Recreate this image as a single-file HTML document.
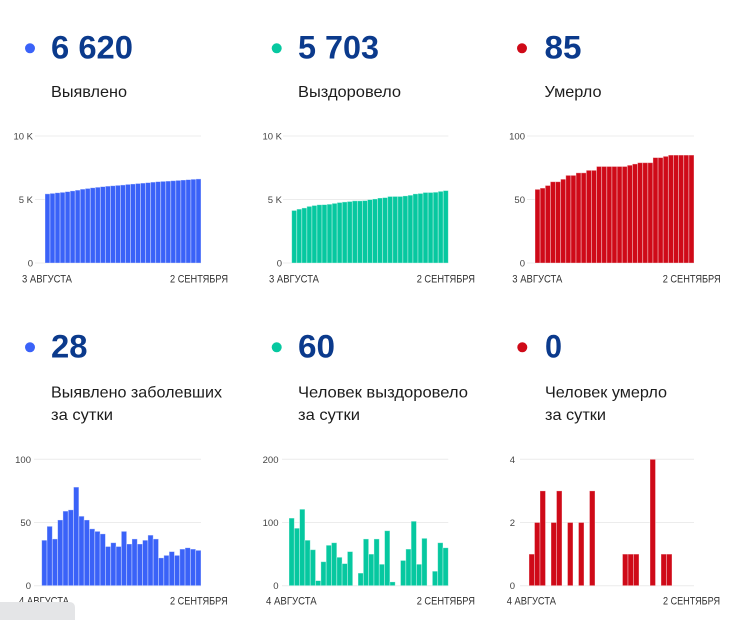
<!DOCTYPE html>
<html><head><meta charset="utf-8"><style>
html,body{margin:0;padding:0;background:#fff;}
svg{display:block;}
.num{font-family:"Liberation Sans",sans-serif;font-weight:bold;font-size:32px;fill:#0b3a8c;}
.lbl{font-family:"Liberation Sans","Noto Sans CJK SC",sans-serif;font-size:16px;fill:#1c1c1c;}
.yt{font-family:"Liberation Sans",sans-serif;font-size:9.5px;fill:#444;text-anchor:end;}
.xt{font-family:"Liberation Sans","Noto Sans CJK SC",sans-serif;font-size:11px;fill:#333;}
.g{stroke:#ececec;stroke-width:1;}
.bars rect{stroke:#fff;stroke-opacity:0.45;stroke-width:0.8;vector-effect:non-scaling-stroke;}
</style></head><body>
<svg width="740" height="620" viewBox="0 0 740 620" xmlns="http://www.w3.org/2000/svg">
<!-- headers top -->
<circle cx="30" cy="48.3" r="5" fill="#3a62f8"/>
<text class="num" x="51" y="58.3" textLength="82" lengthAdjust="spacingAndGlyphs">6 620</text>
<text class="lbl" x="51" y="97" textLength="76" lengthAdjust="spacingAndGlyphs">Выявлено</text>

<circle cx="276.7" cy="48.3" r="5" fill="#06c8a0"/>
<text class="num" x="298" y="58.3" textLength="81" lengthAdjust="spacingAndGlyphs">5 703</text>
<text class="lbl" x="298" y="97" textLength="103" lengthAdjust="spacingAndGlyphs">Выздоровело</text>

<circle cx="522" cy="48.3" r="5" fill="#cf0a18"/>
<text class="num" x="544.5" y="58.3" textLength="37" lengthAdjust="spacingAndGlyphs">85</text>
<text class="lbl" x="544.5" y="97" textLength="57" lengthAdjust="spacingAndGlyphs">Умерло</text>

<!-- headers bottom -->
<circle cx="30" cy="347.3" r="5" fill="#3a62f8"/>
<text class="num" x="51" y="357.7" textLength="36.5" lengthAdjust="spacingAndGlyphs">28</text>
<text class="lbl" x="51" y="397.3" textLength="171" lengthAdjust="spacingAndGlyphs">Выявлено заболевших</text>
<text class="lbl" x="51" y="420" textLength="62" lengthAdjust="spacingAndGlyphs">за сутки</text>

<circle cx="276.7" cy="347.3" r="5" fill="#06c8a0"/>
<text class="num" x="298" y="357.7" textLength="37" lengthAdjust="spacingAndGlyphs">60</text>
<text class="lbl" x="298" y="397.3" textLength="170" lengthAdjust="spacingAndGlyphs">Человек выздоровело</text>
<text class="lbl" x="298" y="420" textLength="62" lengthAdjust="spacingAndGlyphs">за сутки</text>

<circle cx="522.3" cy="347.3" r="5" fill="#cf0a18"/>
<text class="num" x="545" y="357.7" textLength="17" lengthAdjust="spacingAndGlyphs">0</text>
<text class="lbl" x="545" y="397.3" textLength="122" lengthAdjust="spacingAndGlyphs">Человек умерло</text>
<text class="lbl" x="545" y="420" textLength="61" lengthAdjust="spacingAndGlyphs">за сутки</text>

<!-- gridlines -->
<line class="g" x1="35" x2="201" y1="136" y2="136"/><line class="g" x1="35" x2="201" y1="199.5" y2="199.5"/><line class="g" x1="35" x2="201" y1="263" y2="263"/>
<line class="g" x1="283" x2="448.3" y1="136" y2="136"/><line class="g" x1="283" x2="448.3" y1="199.5" y2="199.5"/><line class="g" x1="283" x2="448.3" y1="263" y2="263"/>
<line class="g" x1="527" x2="694" y1="136" y2="136"/><line class="g" x1="527" x2="694" y1="199.5" y2="199.5"/><line class="g" x1="527" x2="694" y1="263" y2="263"/>
<line class="g" x1="34" x2="201" y1="459.3" y2="459.3"/><line class="g" x1="34" x2="201" y1="522.5" y2="522.5"/><line class="g" x1="34" x2="201" y1="585.7" y2="585.7"/>
<line class="g" x1="282" x2="448.3" y1="459.3" y2="459.3"/><line class="g" x1="282" x2="448.3" y1="522.5" y2="522.5"/><line class="g" x1="282" x2="448.3" y1="585.7" y2="585.7"/>
<line class="g" x1="520" x2="694" y1="459.3" y2="459.3"/><line class="g" x1="520" x2="694" y1="522.5" y2="522.5"/><line class="g" x1="520" x2="694" y1="585.7" y2="585.7"/>

<!-- y tick labels -->
<text class="yt" x="33" y="139.5">10 K</text><text class="yt" x="33" y="203">5 K</text><text class="yt" x="33" y="266.5">0</text>
<text class="yt" x="282" y="139.5">10 K</text><text class="yt" x="282" y="203">5 K</text><text class="yt" x="282" y="266.5">0</text>
<text class="yt" x="525" y="139.5">100</text><text class="yt" x="525" y="203">50</text><text class="yt" x="525" y="266.5">0</text>
<text class="yt" x="31" y="462.8">100</text><text class="yt" x="31" y="526">50</text><text class="yt" x="31" y="589.2">0</text>
<text class="yt" x="278.5" y="462.8">200</text><text class="yt" x="278.5" y="526">100</text><text class="yt" x="278.5" y="589.2">0</text>
<text class="yt" x="515" y="462.8">4</text><text class="yt" x="515" y="526">2</text><text class="yt" x="515" y="589.2">0</text>

<!-- x labels -->
<text class="xt" x="22" y="282.3" textLength="50" lengthAdjust="spacingAndGlyphs">3 АВГУСТА</text>
<text class="xt" x="170" y="282.3" textLength="58" lengthAdjust="spacingAndGlyphs">2 СЕНТЯБРЯ</text>
<text class="xt" x="269" y="282.3" textLength="50" lengthAdjust="spacingAndGlyphs">3 АВГУСТА</text>
<text class="xt" x="416.7" y="282.3" textLength="58.3" lengthAdjust="spacingAndGlyphs">2 СЕНТЯБРЯ</text>
<text class="xt" x="512.3" y="282.3" textLength="50" lengthAdjust="spacingAndGlyphs">3 АВГУСТА</text>
<text class="xt" x="662.7" y="282.3" textLength="58" lengthAdjust="spacingAndGlyphs">2 СЕНТЯБРЯ</text>
<text class="xt" x="19" y="604.5" textLength="50" lengthAdjust="spacingAndGlyphs">4 АВГУСТА</text>
<text class="xt" x="170" y="604.5" textLength="57.7" lengthAdjust="spacingAndGlyphs">2 СЕНТЯБРЯ</text>
<text class="xt" x="266" y="604.5" textLength="50.7" lengthAdjust="spacingAndGlyphs">4 АВГУСТА</text>
<text class="xt" x="416.7" y="604.5" textLength="58.3" lengthAdjust="spacingAndGlyphs">2 СЕНТЯБРЯ</text>
<text class="xt" x="506.7" y="604.5" textLength="49.3" lengthAdjust="spacingAndGlyphs">4 АВГУСТА</text>
<text class="xt" x="663" y="604.5" textLength="57" lengthAdjust="spacingAndGlyphs">2 СЕНТЯБРЯ</text>

<!-- top-left bars -->
<g class="bars" fill="#3a62f8" transform="translate(45,263) scale(5.032,-0.0127)">
<rect x="0" y="0" width="1" height="5447"/><rect x="1" y="0" width="1" height="5483"/><rect x="2" y="0" width="1" height="5530"/><rect x="3" y="0" width="1" height="5567"/><rect x="4" y="0" width="1" height="5619"/><rect x="5" y="0" width="1" height="5678"/><rect x="6" y="0" width="1" height="5738"/><rect x="7" y="0" width="1" height="5816"/><rect x="8" y="0" width="1" height="5871"/><rect x="9" y="0" width="1" height="5923"/><rect x="10" y="0" width="1" height="5968"/><rect x="11" y="0" width="1" height="6011"/><rect x="12" y="0" width="1" height="6052"/><rect x="13" y="0" width="1" height="6083"/><rect x="14" y="0" width="1" height="6117"/><rect x="15" y="0" width="1" height="6148"/><rect x="16" y="0" width="1" height="6191"/><rect x="17" y="0" width="1" height="6224"/><rect x="18" y="0" width="1" height="6261"/><rect x="19" y="0" width="1" height="6294"/><rect x="20" y="0" width="1" height="6330"/><rect x="21" y="0" width="1" height="6370"/><rect x="22" y="0" width="1" height="6407"/><rect x="23" y="0" width="1" height="6429"/><rect x="24" y="0" width="1" height="6453"/><rect x="25" y="0" width="1" height="6480"/><rect x="26" y="0" width="1" height="6504"/><rect x="27" y="0" width="1" height="6533"/><rect x="28" y="0" width="1" height="6563"/><rect x="29" y="0" width="1" height="6592"/><rect x="30" y="0" width="1" height="6620"/>
</g>
<!-- top-mid bars -->
<g class="bars" fill="#06c8a0" transform="translate(291.7,263) scale(5.052,-0.0127)">
<rect x="0" y="0" width="1" height="4138"/><rect x="1" y="0" width="1" height="4245"/><rect x="2" y="0" width="1" height="4336"/><rect x="3" y="0" width="1" height="4457"/><rect x="4" y="0" width="1" height="4529"/><rect x="5" y="0" width="1" height="4586"/><rect x="6" y="0" width="1" height="4594"/><rect x="7" y="0" width="1" height="4632"/><rect x="8" y="0" width="1" height="4696"/><rect x="9" y="0" width="1" height="4764"/><rect x="10" y="0" width="1" height="4809"/><rect x="11" y="0" width="1" height="4844"/><rect x="12" y="0" width="1" height="4898"/><rect x="13" y="0" width="1" height="4898"/><rect x="14" y="0" width="1" height="4918"/><rect x="15" y="0" width="1" height="4992"/><rect x="16" y="0" width="1" height="5042"/><rect x="17" y="0" width="1" height="5116"/><rect x="18" y="0" width="1" height="5150"/><rect x="19" y="0" width="1" height="5237"/><rect x="20" y="0" width="1" height="5243"/><rect x="21" y="0" width="1" height="5243"/><rect x="22" y="0" width="1" height="5283"/><rect x="23" y="0" width="1" height="5341"/><rect x="24" y="0" width="1" height="5443"/><rect x="25" y="0" width="1" height="5477"/><rect x="26" y="0" width="1" height="5552"/><rect x="27" y="0" width="1" height="5552"/><rect x="28" y="0" width="1" height="5575"/><rect x="29" y="0" width="1" height="5643"/><rect x="30" y="0" width="1" height="5703"/>
</g>
<!-- top-right bars -->
<g class="bars" fill="#cf0a18" transform="translate(535,263) scale(5.129,-1.27)">
<rect x="0" y="0" width="1" height="58"/><rect x="1" y="0" width="1" height="59"/><rect x="2" y="0" width="1" height="61"/><rect x="3" y="0" width="1" height="64"/><rect x="4" y="0" width="1" height="64"/><rect x="5" y="0" width="1" height="66"/><rect x="6" y="0" width="1" height="69"/><rect x="7" y="0" width="1" height="69"/><rect x="8" y="0" width="1" height="71"/><rect x="9" y="0" width="1" height="71"/><rect x="10" y="0" width="1" height="73"/><rect x="11" y="0" width="1" height="73"/><rect x="12" y="0" width="1" height="76"/><rect x="13" y="0" width="1" height="76"/><rect x="14" y="0" width="1" height="76"/><rect x="15" y="0" width="1" height="76"/><rect x="16" y="0" width="1" height="76"/><rect x="17" y="0" width="1" height="76"/><rect x="18" y="0" width="1" height="77"/><rect x="19" y="0" width="1" height="78"/><rect x="20" y="0" width="1" height="79"/><rect x="21" y="0" width="1" height="79"/><rect x="22" y="0" width="1" height="79"/><rect x="23" y="0" width="1" height="83"/><rect x="24" y="0" width="1" height="83"/><rect x="25" y="0" width="1" height="84"/><rect x="26" y="0" width="1" height="85"/><rect x="27" y="0" width="1" height="85"/><rect x="28" y="0" width="1" height="85"/><rect x="29" y="0" width="1" height="85"/><rect x="30" y="0" width="1" height="85"/>
</g>
<!-- bottom-left bars -->
<g class="bars" fill="#3a62f8" transform="translate(41.7,585.7) scale(5.31,-1.264)">
<rect x="0" y="0" width="1" height="36"/><rect x="1" y="0" width="1" height="47"/><rect x="2" y="0" width="1" height="37"/><rect x="3" y="0" width="1" height="52"/><rect x="4" y="0" width="1" height="59"/><rect x="5" y="0" width="1" height="60"/><rect x="6" y="0" width="1" height="78"/><rect x="7" y="0" width="1" height="55"/><rect x="8" y="0" width="1" height="52"/><rect x="9" y="0" width="1" height="45"/><rect x="10" y="0" width="1" height="43"/><rect x="11" y="0" width="1" height="41"/><rect x="12" y="0" width="1" height="31"/><rect x="13" y="0" width="1" height="34"/><rect x="14" y="0" width="1" height="31"/><rect x="15" y="0" width="1" height="43"/><rect x="16" y="0" width="1" height="33"/><rect x="17" y="0" width="1" height="37"/><rect x="18" y="0" width="1" height="33"/><rect x="19" y="0" width="1" height="36"/><rect x="20" y="0" width="1" height="40"/><rect x="21" y="0" width="1" height="37"/><rect x="22" y="0" width="1" height="22"/><rect x="23" y="0" width="1" height="24"/><rect x="24" y="0" width="1" height="27"/><rect x="25" y="0" width="1" height="24"/><rect x="26" y="0" width="1" height="29"/><rect x="27" y="0" width="1" height="30"/><rect x="28" y="0" width="1" height="29"/><rect x="29" y="0" width="1" height="28"/>
</g>
<!-- bottom-mid bars -->
<g class="bars" fill="#06c8a0" transform="translate(289,585.7) scale(5.31,-0.632)">
<rect x="0" y="0" width="1" height="107"/><rect x="1" y="0" width="1" height="91"/><rect x="2" y="0" width="1" height="121"/><rect x="3" y="0" width="1" height="72"/><rect x="4" y="0" width="1" height="57"/><rect x="5" y="0" width="1" height="8"/><rect x="6" y="0" width="1" height="38"/><rect x="7" y="0" width="1" height="64"/><rect x="8" y="0" width="1" height="68"/><rect x="9" y="0" width="1" height="45"/><rect x="10" y="0" width="1" height="35"/><rect x="11" y="0" width="1" height="54"/><rect x="13" y="0" width="1" height="20"/><rect x="14" y="0" width="1" height="74"/><rect x="15" y="0" width="1" height="50"/><rect x="16" y="0" width="1" height="74"/><rect x="17" y="0" width="1" height="34"/><rect x="18" y="0" width="1" height="87"/><rect x="19" y="0" width="1" height="6"/><rect x="21" y="0" width="1" height="40"/><rect x="22" y="0" width="1" height="58"/><rect x="23" y="0" width="1" height="102"/><rect x="24" y="0" width="1" height="34"/><rect x="25" y="0" width="1" height="75"/><rect x="27" y="0" width="1" height="23"/><rect x="28" y="0" width="1" height="68"/><rect x="29" y="0" width="1" height="60"/>
</g>
<!-- bottom-right bars -->
<g class="bars" fill="#cf0a18" transform="translate(529,585.7) scale(5.5,-31.6)">
<rect x="0" y="0" width="1" height="1"/><rect x="1" y="0" width="1" height="2"/><rect x="2" y="0" width="1" height="3"/><rect x="4" y="0" width="1" height="2"/><rect x="5" y="0" width="1" height="3"/><rect x="7" y="0" width="1" height="2"/><rect x="9" y="0" width="1" height="2"/><rect x="11" y="0" width="1" height="3"/><rect x="17" y="0" width="1" height="1"/><rect x="18" y="0" width="1" height="1"/><rect x="19" y="0" width="1" height="1"/><rect x="22" y="0" width="1" height="4"/><rect x="24" y="0" width="1" height="1"/><rect x="25" y="0" width="1" height="1"/>
</g>

<!-- gray box bottom-left -->
<path d="M0 602 H69 Q75 602 75 608 V620 H0 Z" fill="#e4e5e7"/>
</svg>
</body></html>
